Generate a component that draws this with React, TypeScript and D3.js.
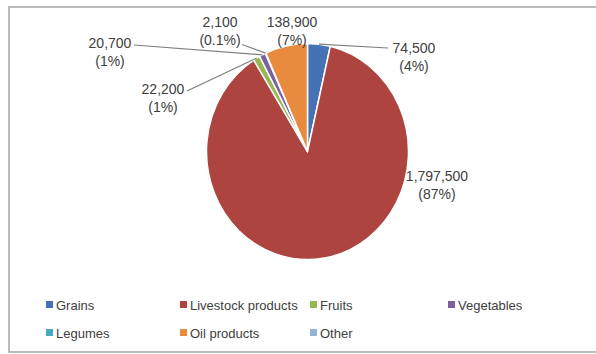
import React from "react";
import * as d3 from "d3";

const categories = ["Grains", "Livestock products", "Fruits", "Vegetables", "Legumes", "Oil products", "Other"];
const values = [74500, 1797500, 22200, 20700, 2100, 138900, 0];
const valueLabels = ["74,500", "1,797,500", "22,200", "20,700", "2,100", "138,900", ""];
const pctLabels = ["(4%)", "(87%)", "(1%)", "(1%)", "(0.1%)", "(7%)", ""];
const colors = ["#4472B4", "#AD4440", "#96B752", "#7B5F9E", "#46A9C3", "#E88B3F", "#95B3D7"];

// label anchor positions (center of text block) and whether a leader line is drawn
const labelPos: [number, number][] = [
  [414, 48],
  [437, 176],
  [163, 89],
  [110, 43],
  [220, 22],
  [292, 22],
  [0, 0],
];
const hasLeader = [true, false, true, true, true, false, false];

export default function App() {
  const W = 596, H = 354;
  const cx = 307.5, cy = 151.5, r = 101, sy = 1.07;
  const pie = d3.pie<number>().sort(null).startAngle(0).endAngle(2 * Math.PI);
  const arcs = pie(values);
  const arcGen = d3.arc<d3.PieArcDatum<number>>().innerRadius(0).outerRadius(r);
  const font = "'Liberation Sans', Arial, sans-serif";
  const lh = 18.5;

  const legendCols = [46, 180, 310, 448];
  const legendRows = [305, 333];

  return (
    <svg width={W} height={H} style={{ position: "absolute", left: 0, top: 0, background: "#fff" }}>
      <rect x={9} y={7} width={600} height={345} fill="#fff" stroke="#a6a6a6" strokeWidth={1.5} />
      <g transform={`translate(${cx},${cy}) scale(1,${sy})`}>
        {arcs.map((a, i) =>
          a.value > 0 ? (
            <path key={i} d={arcGen(a) || ""} fill={colors[i]} stroke="#fff" strokeWidth={1.5} vectorEffect="non-scaling-stroke" />
          ) : null
        )}
      </g>
      {arcs.map((a, i) => {
        if (!hasLeader[i] || a.value === 0) return null;
        const mid = (a.startAngle + a.endAngle) / 2;
        const px = cx + r * Math.sin(mid);
        const py = cy - r * sy * Math.cos(mid);
        const [lx, ly] = labelPos[i];
        let sx: number, syy: number;
        if (i === 0) {
          sx = lx - 26; syy = ly;
        } else if (i === 4) {
          sx = lx + 22; syy = ly + lh + 4;
        } else {
          sx = lx + 24; syy = ly + 2;
        }
        return (
          <polyline key={"l" + i} points={`${sx},${syy} ${px},${py}`} fill="none" stroke="#7f7f7f" strokeWidth={1.2} />
        );
      })}
      {arcs.map((a, i) => {
        if (a.value === 0) return null;
        const [lx, ly] = labelPos[i];
        return (
          <g key={"t" + i} fontFamily={font} fontSize={14} fill="#404040" textAnchor="middle">
            <text x={lx} y={ly} dy="0.35em">{valueLabels[i]}</text>
            <text x={lx} y={ly + lh} dy="0.35em">{pctLabels[i]}</text>
          </g>
        );
      })}
      {categories.map((c, i) => {
        const col = i < 4 ? i : i - 4;
        const row = i < 4 ? 0 : 1;
        const x = legendCols[col];
        const y = legendRows[row];
        return (
          <g key={"lg" + i}>
            <rect x={x} y={y - 4} width={7} height={7} fill={colors[i]} />
            <text x={x + 10} y={y} dy="0.35em" fontFamily={font} fontSize={13} fill="#404040">{c}</text>
          </g>
        );
      })}
    </svg>
  );
}
